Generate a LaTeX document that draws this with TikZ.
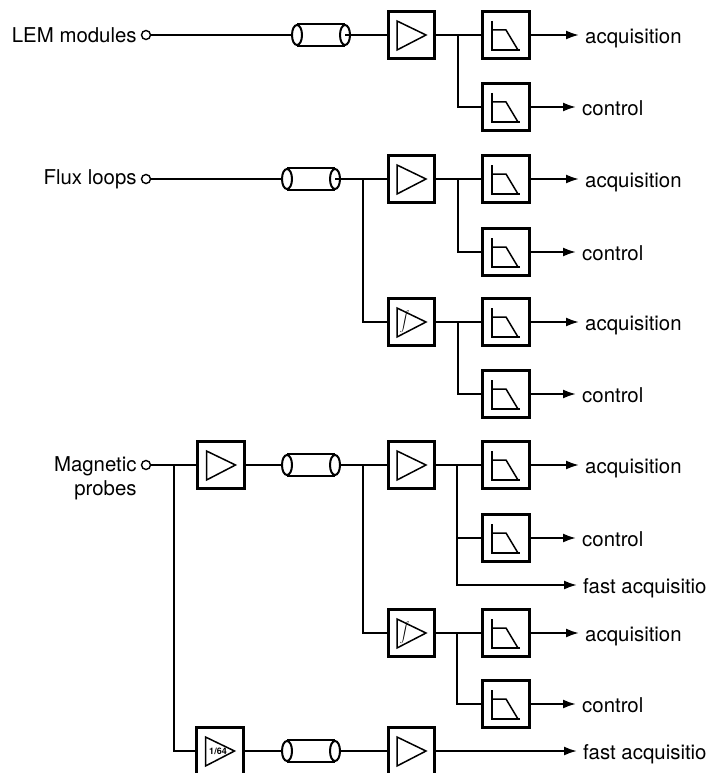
\documentclass[tikz,border=0pt]{standalone}
\usepackage{fontspec}
\setmainfont{TeX Gyre Heros}
\usetikzlibrary{arrows.meta}
\usetikzlibrary{shapes.geometric}
\usetikzlibrary{positioning}
\tikzset{
  sig/.style={line width=2pt},
  outwire/.style={sig, -{Latex[length=13pt,width=9pt]}, shorten >=6pt},
  glyph/.style={line width=1.5pt, line join=miter},
  sqbox/.style={rectangle, draw, line width=2.6pt, minimum size=46.5pt, inner sep=0pt},
  ampbox/.style={sqbox, path picture={
      \draw[glyph, shift={(path picture bounding box.center)}] (-14.5,-14) -- (14.5,0) -- (-14.5,15) -- cycle;
    }},
  filterbox/.style={sqbox, path picture={
      \draw[glyph, shift={(path picture bounding box.center)}] (-14,-14) -- (-14,15) -- (14,15);
      \draw[glyph, shift={(path picture bounding box.center)}] (-14,-5) -- (0,-5) -- (12,15);
    }},
  term/.style={circle, draw, line width=1.4pt, minimum size=9pt, inner sep=0pt},
  capend/.style={ellipse, draw, line width=2pt, minimum width=10pt, minimum height=20pt, inner sep=0pt},
  inlabel/.style={inner sep=0pt, font=\fontsize{20.4}{24}\selectfont},
  outlabel/.style={anchor=west, inner sep=0pt, text height=22pt, text depth=4.5pt, font=\fontsize{20.4}{24}\selectfont},
  intmark/.style={inner sep=0pt, font=\fontsize{13}{13}\selectfont},
  scalemark/.style={inner sep=0pt, font=\fontsize{9}{9}\selectfont\bfseries},
}
\newcommand\Cable[3]{
  \node[capend] (#1a) at (#2-24,#3) {};
  \node[capend] (#1b) at (#2+24,#3) {};
  \draw[sig] (#1a.north) -- (#1b.north);
  \draw[sig] (#1a.south) -- (#1b.south);
}
\begin{document}
\begin{tikzpicture}[x=1pt, y=-1pt]
  \useasboundingbox (0,0) rectangle (707,773);

  \foreach \n/\y/\lab/\xl in {1/35/acquisition/585, 2/107/control/582, 3/179/acquisition/585, 4/252/control/582,
      5/322/acquisition/585, 6/394/control/582, 7/465/acquisition/585, 8/538/control/582,
      9/633/acquisition/585, 10/704/control/582}{
    \node[filterbox] (f\n) at (506,\y) {};
    \node[outlabel] (t\n) at (\xl,\y) {\lab};
    \draw[outwire] (f\n) -- (t\n);
  }

  % LEM modules
  \node[term] (in1) at (146,35) {};
  \node[inlabel, left=4pt of in1] (lem) {LEM modules};
  \Cable{c1}{321}{35}
  \node[ampbox] (a1) at (411.5,35) {};
  \coordinate (j1) at (458,35);
  \draw[sig] (in1) -- (c1a.west);
  \draw[sig] (c1b.center) -- (a1);
  \draw[sig] (a1) -- (f1);
  \draw[sig] (j1) |- (f2);

  % Flux loops
  \node[term] (in2) at (146,179) {};
  \node[inlabel, left=4pt of in2] (flux) {Flux loops};
  \Cable{c2}{311}{179}
  \node[ampbox] (a2) at (411.5,179) {};
  \node[ampbox] (a3) at (411.5,322) {};
  \node[intmark] (i1) at ([xshift=-7pt]a3.center) {$\displaystyle\int$};
  \coordinate (j2) at (363,179);
  \coordinate (j3) at (458,179);
  \coordinate (j4) at (458,322);
  \draw[sig] (in2) -- (c2a.west);
  \draw[sig] (c2b.center) -- (a2);
  \draw[sig] (a2) -- (f3);
  \draw[sig] (j2) |- (a3);
  \draw[sig] (j3) |- (f4);
  \draw[sig] (a3) -- (f5);
  \draw[sig] (j4) |- (f6);

  % Magnetic probes
  \node[term] (in3) at (146,465) {};
  \node[inlabel, align=right, anchor=north east] (probes) at ([xshift=-4pt,yshift=9pt]in3.west) {Magnetic\\probes};
  \node[ampbox] (a4) at (221,465) {};
  \Cable{c3}{311}{465}
  \node[ampbox] (a5) at (411.5,465) {};
  \node[ampbox] (a6) at (411.5,633) {};
  \node[intmark] (i2) at ([xshift=-7pt]a6.center) {$\displaystyle\int$};
  \node[ampbox] (a7) at (220,751) {};
  \node[scalemark] (s1) at ([xshift=-2pt]a7.center) {1/64};
  \Cable{c4}{311}{751}
  \node[ampbox] (a8) at (411.5,751) {};
  \node[outlabel] (t11) at (583,585) {fast acquisitio};
  \node[outlabel] (t12) at (583,751) {fast acquisitio};
  \coordinate (j5) at (174,465);
  \coordinate (j6) at (363,465);
  \coordinate (j7) at (457,465);
  \coordinate (j8) at (457,633);
  \draw[sig] (in3) -- (a4);
  \draw[sig] (a4) -- (c3a.west);
  \draw[sig] (c3b.east) -- (a5);
  \draw[sig] (a5) -- (f7);
  \draw[sig] (j6) |- (a6);
  \draw[sig] (j7) |- (f8);
  \draw[outwire] (j7) |- (t11);
  \draw[sig] (a6) -- (f9);
  \draw[sig] (j8) |- (f10);
  \draw[sig] (j5) |- (a7);
  \draw[sig] (a7) -- (c4a.west);
  \draw[sig] (c4b.east) -- (a8);
  \draw[outwire] (a8) -- (t12);
\end{tikzpicture}
\end{document}
